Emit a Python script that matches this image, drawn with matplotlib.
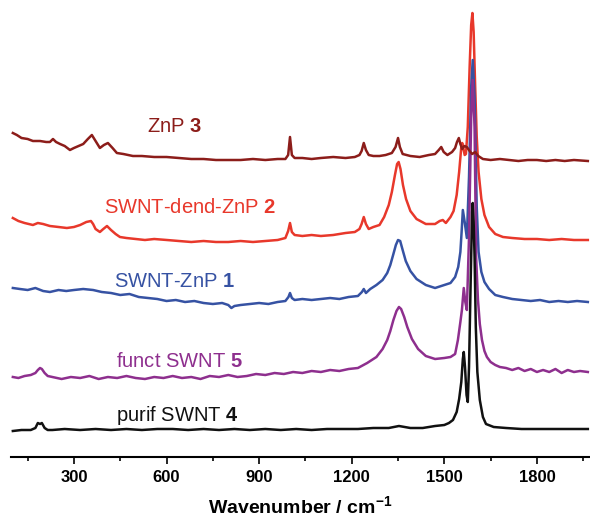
import matplotlib
matplotlib.use("Agg")
import matplotlib.pyplot as plt
from matplotlib.ticker import MultipleLocator

plt.rcParams["font.family"] = ["Liberation Sans", "DejaVu Sans"]
plt.rcParams["mathtext.fontset"] = "custom"
plt.rcParams["mathtext.rm"] = "Liberation Sans"
plt.rcParams["mathtext.bf"] = "Liberation Sans:bold"

# Raman spectra: wavenumber (cm-1) vs intensity (a.u., stacked)
purif_x = [102, 130, 160, 175, 183, 190, 196, 205, 215, 230, 270, 320, 370, 420, 470, 520,
           570, 620, 670, 720, 770, 820, 870, 920, 970, 1020, 1070, 1120, 1170, 1220, 1270,
           1320, 1353, 1390, 1430, 1470, 1500, 1515, 1528, 1540, 1548, 1555, 1560, 1563,
           1567, 1572, 1576, 1580, 1585, 1590, 1592, 1595, 1598, 1602, 1607, 1615, 1625,
           1635, 1660, 1700, 1750, 1800, 1850, 1900, 1965]
purif_y = [26, 27, 27, 29, 34, 33, 34, 29, 27, 27, 28, 27, 28, 27, 28, 27,
           28, 28, 27, 28, 27, 28, 27, 28, 27, 28, 27, 28, 28, 28, 29,
           29, 31, 29, 29, 31, 32, 34, 37, 45, 58, 75, 98, 105,
           90, 62, 55, 90, 170, 245, 254, 235, 200, 130, 85, 57, 40,
           33, 30, 29, 28, 28, 28, 28, 28]

funct_x = [102, 120, 140, 160, 175, 183, 190, 196, 205, 215, 230, 260, 290, 320, 350, 380,
           410, 440, 470, 500, 530, 560, 590, 620, 650, 680, 710, 740, 770, 800, 830, 860,
           890, 920, 950, 980, 1010, 1040, 1070, 1100, 1130, 1160, 1190, 1220, 1250, 1280,
           1300, 1315, 1325, 1335, 1345, 1353, 1360, 1370, 1380, 1395, 1415, 1440, 1470,
           1500, 1520, 1535, 1544, 1552, 1557, 1563, 1568, 1573, 1580, 1587, 1592, 1598,
           1603, 1609, 1615, 1622, 1630, 1638, 1650, 1665, 1680, 1700, 1720, 1740, 1760,
           1780, 1800, 1820, 1840, 1860, 1880, 1900, 1920, 1940, 1965]
funct_y = [80, 79, 81, 82, 84, 87, 89, 88, 84, 81, 80, 78, 80, 79, 81, 78,
           80, 79, 81, 79, 78, 80, 79, 81, 79, 80, 78, 81, 80, 82, 80, 81,
           83, 82, 84, 83, 85, 84, 86, 85, 87, 86, 88, 89, 94, 100,
           108, 117, 126, 137, 146, 150, 148, 140, 130, 118, 108, 101, 98,
           99, 100, 103, 117, 135, 147, 169, 155, 147, 220, 340, 377, 330,
           200, 157, 133, 117, 106, 100, 95, 92, 90, 89, 87, 89, 86,
           88, 85, 87, 85, 88, 84, 87, 85, 86, 85]

swnt_znp_x = [102, 125, 150, 175, 200, 222, 250, 275, 300, 330, 362, 390, 420, 450, 480,
              510, 540, 570, 600, 630, 660, 690, 720, 750, 780, 800, 810, 820, 840, 870,
              900, 930, 960, 985, 995, 1000, 1006, 1015, 1040, 1070, 1100, 1130, 1160,
              1190, 1220, 1233, 1239, 1246, 1260, 1280, 1300, 1315, 1325, 1335, 1343,
              1350, 1357, 1365, 1375, 1390, 1410, 1440, 1470, 1500, 1520, 1535, 1545,
              1552, 1556, 1560, 1566, 1573, 1580, 1587, 1592, 1598, 1605, 1611, 1620,
              1630, 1645, 1665, 1690, 1720, 1750, 1780, 1810, 1840, 1870, 1900, 1930, 1965]
swnt_znp_y = [169, 168, 167, 169, 166, 165, 167, 166, 167, 168, 167, 165, 164, 162, 163,
              160, 159, 158, 156, 157, 155, 156, 154, 153, 154, 152, 149, 151, 152, 153,
              154, 153, 155, 156, 160, 164, 159, 157, 158, 157, 158, 159, 158,
              160, 161, 165, 168, 164, 168, 172, 177, 184, 192, 203, 212,
              217, 216, 207, 196, 186, 178, 172, 169, 172, 174, 180, 190,
              205, 225, 247, 235, 219, 280, 370, 397, 360, 250, 205, 185,
              175, 168, 162, 160, 158, 157, 156, 157, 155, 156, 155, 156, 155]

dend_x = [102, 120, 140, 167, 183, 200, 222, 250, 277, 300, 320, 340, 355, 362, 370, 384,
          395, 407, 420, 435, 449, 470, 500, 530, 560, 601, 640, 680, 720, 760, 800, 840,
          880, 920, 960, 985, 994, 1000, 1006, 1015, 1040, 1070, 1100, 1140, 1180, 1210,
          1225, 1232, 1239, 1246, 1255, 1270, 1290, 1305, 1320, 1330, 1340, 1347, 1352,
          1358, 1366, 1376, 1390, 1410, 1440, 1470, 1485, 1495, 1505, 1520, 1530, 1540,
          1548, 1555, 1558, 1562, 1566, 1570, 1576, 1582, 1587, 1591, 1595, 1600, 1605,
          1611, 1620, 1630, 1645, 1665, 1690, 1720, 1760, 1800, 1840, 1880, 1920, 1965]
dend_y = [239, 236, 234, 232, 234, 233, 231, 230, 229, 230, 232, 235, 236, 233, 228, 225,
          228, 231, 227, 223, 220, 219, 218, 217, 218, 217, 216, 215, 216, 215, 215, 216,
          215, 216, 217, 219, 226, 234, 225, 222, 221, 222, 221, 222, 224, 225,
          228, 233, 240, 233, 228, 230, 232, 240, 252, 265, 282, 293, 295,
          288, 272, 258, 246, 238, 233, 233, 236, 237, 234, 240, 246, 262,
          285, 310, 314, 308, 302, 303, 330, 390, 432, 444, 425, 370, 320,
          285, 258, 242, 230, 223, 220, 219, 218, 218, 217, 218, 217, 217]

znp_x = [102, 115, 130, 150, 167, 190, 210, 222, 232, 242, 255, 270, 287, 300, 315, 330,
         345, 358, 370, 384, 397, 410, 425, 439, 460, 491, 520, 560, 600, 640, 680, 720,
         760, 800, 840, 880, 920, 960, 985, 994, 1000, 1006, 1015, 1040, 1070, 1100, 1140,
         1180, 1210, 1225, 1232, 1239, 1246, 1255, 1270, 1290, 1310, 1330, 1342, 1350,
         1356, 1365, 1390, 1420, 1450, 1470, 1482, 1490, 1498, 1510, 1525, 1535, 1541,
         1547, 1552, 1558, 1565, 1573, 1582, 1590, 1600, 1610, 1625, 1650, 1680, 1710,
         1740, 1770, 1800, 1830, 1860, 1890, 1920, 1965]
znp_y = [324, 322, 319, 318, 316, 316, 315, 315, 318, 315, 313, 311, 307, 309, 311, 313,
         318, 322, 316, 309, 312, 314, 309, 304, 303, 301, 301, 300, 300, 299, 298, 298,
         297, 297, 297, 298, 297, 298, 298, 302, 320, 302, 299, 299, 298, 299, 300,
         299, 300, 302, 306, 314, 307, 302, 301, 301, 302, 304, 310, 319,
         310, 303, 301, 300, 302, 303, 307, 310, 305, 302, 305, 309, 315,
         319, 313, 308, 311, 310, 306, 303, 305, 301, 298, 297, 298, 297,
         296, 297, 297, 296, 297, 296, 297, 296]

# label, x, y, colour, label anchor (x, baseline); listed in drawing order
spectra = [
    ("SWNT-dend-ZnP $\\mathbf{2}$", dend_x, dend_y, "#e8382b", (676, 244)),
    ("SWNT-ZnP $\\mathbf{1}$", swnt_znp_x, swnt_znp_y, "#3652a3", (627, 170)),
    ("funct SWNT $\\mathbf{5}$", funct_x, funct_y, "#8e2f8e", (640, 90)),
    ("purif SWNT $\\mathbf{4}$", purif_x, purif_y, "#111111", (634, 36)),
    ("ZnP $\\mathbf{3}$", znp_x, znp_y, "#8c1d1a", (627, 325)),
]

fig = plt.figure(figsize=(5.9, 5.2), dpi=100)
ax = fig.add_axes([11 / 590, 63 / 520, 579 / 590, 457 / 520])

for label, xs, ys, color, (lx, ly) in spectra:
    ax.plot(xs, ys, color=color, linewidth=1.8, solid_joinstyle="round")
    ax.text(lx, ly, label, color=color, fontsize=14.5, ha="center", va="baseline")

ax.set_xlim(96, 1972)
ax.set_ylim(0, 457)
for side in ("left", "right", "top"):
    ax.spines[side].set_visible(False)
ax.spines["bottom"].set_linewidth(1.5)
ax.set_yticks([])
ax.xaxis.set_major_locator(MultipleLocator(300))
ax.xaxis.set_minor_locator(MultipleLocator(150))
ax.tick_params(axis="x", which="major", direction="out", length=5, width=1.2,
               labelsize=12, pad=4)
ax.tick_params(axis="x", which="minor", direction="out", length=3, width=1.2)
for t in ax.get_xticklabels():
    t.set_fontweight("bold")
ax.set_xlabel("Wavenumber / cm$^{\\mathbf{-1}}$", fontsize=14, fontweight="bold",
              labelpad=8)

fig.savefig("out.png", dpi=100)
